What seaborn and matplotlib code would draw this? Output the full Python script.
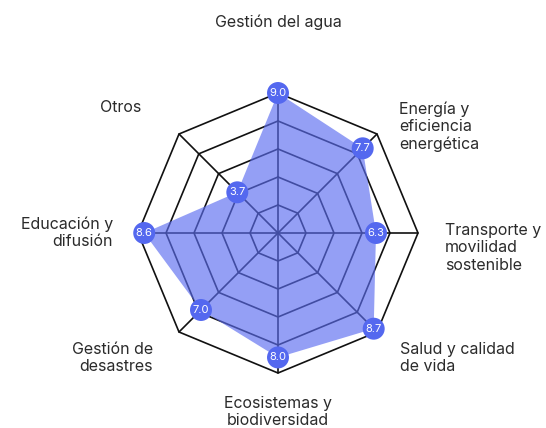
import numpy as np
import matplotlib
matplotlib.use("Agg")
import matplotlib.pyplot as plt
import seaborn as sns

# Datos del radar
categorias = ["Gestión del agua", "Energía y\neficiencia\nenergética",
              "Transporte y\nmovilidad\nsostenible", "Salud y calidad\nde vida",
              "Ecosistemas y\nbiodiversidad", "Gestión de\ndesastres",
              "Educación y\ndifusión", "Otros"]
valores = [9.0, 7.7, 6.3, 8.7, 8.0, 7.0, 8.6, 3.7]
niveles = [1.8, 3.6, 5.4, 7.2, 9.0]
valor_max = 9.0

sns.set_theme(style="white")
plt.rcParams['font.family'] = ['Inter', 'DejaVu Sans']

W, H = 546, 428
fig = plt.figure(figsize=(W / 100, H / 100), dpi=100)
fig.patch.set_facecolor('white')

# centro (278, 233), radio 140 px
cx, cy, rad = 278, 233, 140
ax = fig.add_axes([(cx - rad) / W, 1 - (cy + rad) / H, 2 * rad / W, 2 * rad / H],
                  projection='polar')
ax.set_theta_offset(np.pi / 2)
ax.set_theta_direction(-1)
ax.set_ylim(0, valor_max)
ax.grid(False)
ax.spines['polar'].set_visible(False)
ax.set_xticks([])
ax.set_yticks([])
ax.set_facecolor('none')

n = len(valores)
angulos = np.linspace(0, 2 * np.pi, n, endpoint=False)
ang_c = np.append(angulos, angulos[0])

# Rejilla octogonal
for r in niveles:
    ax.plot(ang_c, [r] * (n + 1), color='#111111', lw=1.2, zorder=1, clip_on=False)
for a in angulos:
    ax.plot([a, a], [0, valor_max], color='#111111', lw=1.2, zorder=1, clip_on=False)

# Área de datos
vals_c = np.append(valores, valores[0])
ax.fill(ang_c, vals_c, color='#5b6cf0', alpha=0.65, lw=0, zorder=2, clip_on=False)

sns.scatterplot(x=angulos, y=valores, ax=ax, s=250, color='#5468ef',
                edgecolor='none', zorder=4, legend=False)
ax.collections[-1].set_clip_on(False)
for a, v in zip(angulos, valores):
    ax.text(a, v, f"{v:.1f}", ha='center', va='center', color='white',
            fontsize=8, zorder=5)

# Etiquetas de categorías (x, y en px, alineación)
posiciones = [
    (278, 22, 'center'),
    (399, 127, 'left'),
    (445, 248, 'left'),
    (400, 358, 'left'),
    (278, 412, 'center'),
    (153, 358, 'right'),
    (113, 233, 'right'),
    (121, 107, 'center'),
]
for txt, (x, y, ha) in zip(categorias, posiciones):
    fig.text(x / W, 1 - y / H, txt, ha=ha, va='center', fontsize=11.5,
             color='#2b2b2b', linespacing=1.2, multialignment=ha)

plt.savefig("out.png", dpi=100, facecolor='white')
plt.close()
